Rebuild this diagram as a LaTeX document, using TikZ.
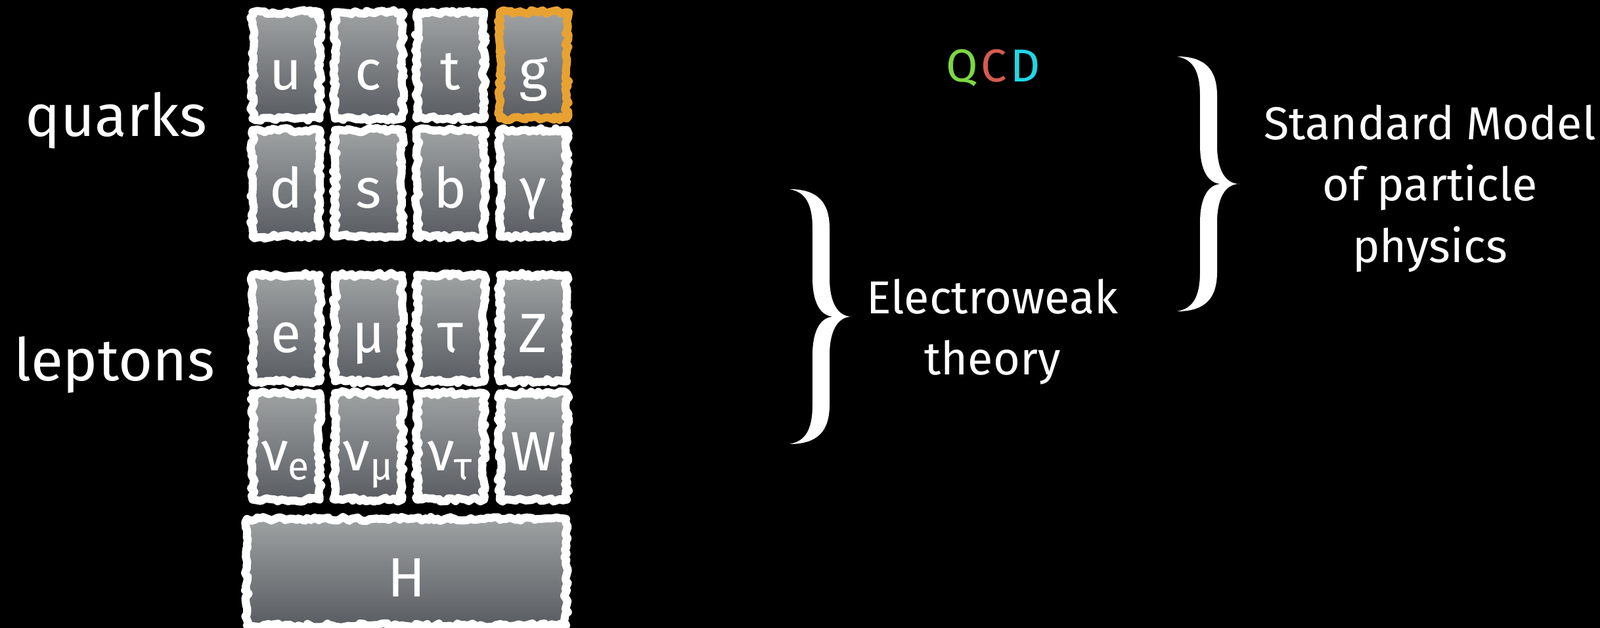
\documentclass[tikz,border=0pt]{standalone}
\usepackage{fontspec}
\setmainfont{Fira Sans}
\usetikzlibrary{decorations.pathmorphing}
\definecolor{boxtop}{RGB}{160,163,163}
\definecolor{boxbottom}{RGB}{88,91,97}
\definecolor{gluonorange}{RGB}{232,162,50}
\definecolor{qcdgreen}{RGB}{125,215,65}
\definecolor{qcdred}{RGB}{215,90,80}
\definecolor{qcdcyan}{RGB}{30,215,230}
\tikzset{
  particle/.style={rectangle, minimum width=1.02cm, minimum height=1.62cm,
    top color=boxtop, bottom color=boxbottom, draw=white, line width=3.5pt,
    line join=round, decorate,
    decoration={random steps, segment length=1.5pt, amplitude=0.9pt},
    text=white, text height=0.75cm, text depth=0cm,
    font=\fontsize{24}{28}\selectfont},
  label text/.style={text=white, align=center, font=\fontsize{20}{26.6}\selectfont},
  side text/.style={text=white, anchor=base, font=\fontsize{25.5}{30}\selectfont},
  chalk brace/.pic={
    \fill[white] (0,0) .. controls (0.43,0) and (0.61,-0.2) .. (0.61,-0.6)
      -- (0.61,-1.35) .. controls (0.61,-1.72) and (0.73,-1.94) .. (0.95,-1.94)
      .. controls (0.73,-1.94) and (0.61,-2.16) .. (0.61,-2.53)
      -- (0.61,-3.28) .. controls (0.61,-3.68) and (0.43,-3.88) .. (0,-3.88)
      .. controls (0.23,-3.84) and (0.35,-3.68) .. (0.35,-3.28)
      -- (0.35,-2.53) .. controls (0.35,-2.14) and (0.48,-1.94) .. (0.68,-1.94)
      .. controls (0.48,-1.94) and (0.35,-1.74) .. (0.35,-1.35)
      -- (0.35,-0.6) .. controls (0.35,-0.2) and (0.23,-0.04) .. (0,0) -- cycle;
  }
}
\begin{document}
\begin{tikzpicture}[scale = 1]
  \useasboundingbox (0,0) rectangle (24.36,9.56);
  \fill[black] (0,0) rectangle (24.36,9.56);
  \clip (0,0) rectangle (24.36,9.56);

  % quarks and gauge bosons
  \node[particle] (up) at (4.355,8.565) {u};
  \node[particle] (charm) at (5.61,8.565) {c};
  \node[particle] (top) at (6.86,8.565) {t};
  \node[particle, draw=gluonorange] (gluon) at (8.12,8.565) {g};
  \node[particle] (down) at (4.355,6.77) {d};
  \node[particle] (strange) at (5.61,6.77) {s};
  \node[particle] (bottom) at (6.86,6.77) {b};
  \node[particle] (photon) at (8.12,6.77) {γ};

  % leptons and weak bosons
  \node[particle] (electron) at (4.355,4.565) {e};
  \node[particle] (muon) at (5.61,4.565) {μ};
  \node[particle] (tau) at (6.86,4.565) {τ};
  \node[particle] (zboson) at (8.12,4.565) {Z};
  \node[particle] (nue) at (4.355,2.765) {ν\textsubscript{e}};
  \node[particle] (numu) at (5.61,2.765) {ν\textsubscript{μ}};
  \node[particle] (nutau) at (6.86,2.765) {ν\textsubscript{τ}};
  \node[particle] (wboson) at (8.12,2.765) {W};

  \node[particle, minimum width=4.86cm] (higgs) at (6.19,0.85) {H};

  \node[side text] (quarks) at (1.77,7.48) {quarks};
  \node[side text] (leptons) at (1.74,3.76) {leptons};

  \node[label text] (qcd) at (15.12,8.53)
    {\textcolor{qcdgreen}{Q}\kern1.5pt\textcolor{qcdred}{C}\kern1.5pt\textcolor{qcdcyan}{D}};

  \pic (ewbrace) at (12.02,6.68) {chalk brace};
  \node[label text] (electroweak) at (15.11,4.51) {Electroweak\\theory};

  \pic (smbrace) at (17.92,8.70) {chalk brace};
  \node[label text] (standard) at (21.77,6.69) {Standard Model\\of particle\\physics};
\end{tikzpicture}
\end{document}
